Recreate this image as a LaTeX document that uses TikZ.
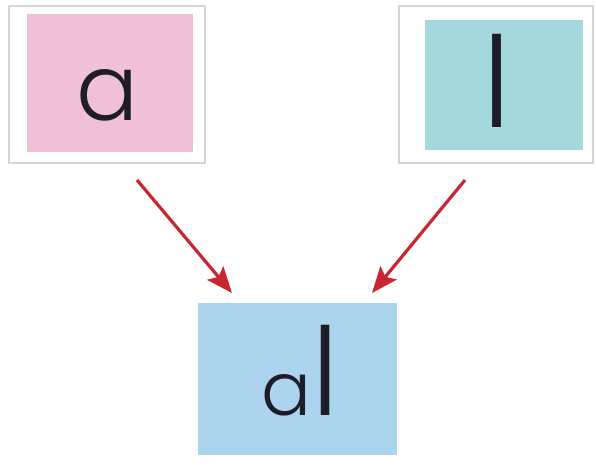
\documentclass[tikz,border=0pt]{standalone}
\usepackage{fontspec}
\setmainfont{Poppins Light}
\usetikzlibrary{arrows.meta}
\definecolor{pinkfill}{RGB}{240,192,216}
\definecolor{tealfill}{RGB}{165,216,218}
\definecolor{bluefill}{RGB}{172,212,238}
\definecolor{framegray}{RGB}{214,214,214}
\definecolor{arrowred}{RGB}{200,38,48}
\definecolor{inkcol}{RGB}{30,28,40}
\tikzset{
  frame/.style={draw=framegray, line width=2pt, fill=white},
  letter/.style={text=inkcol, inner sep=0pt, anchor=base},
  link/.style={draw=arrowred, line width=3.2pt, -{Stealth[length=26pt,width=21pt,inset=5pt]}}
}
\begin{document}
\begin{tikzpicture}[x=1pt,y=-1pt]
\useasboundingbox (0,0) rectangle (596,475);
% pink card
\draw[frame] (9,6) rectangle (205,163);
\fill[pinkfill] (27,14) rectangle (193,152);
\node[letter] (la) at (108,120) {\fontsize{92}{92}\selectfont a};
% teal card
\draw[frame] (399,6) rectangle (593,163);
\fill[tealfill] (425,20) rectangle (583,150);
\node[letter] (ll) at (497,127) {\fontsize{126}{126}\selectfont l};
% blue card
\fill[bluefill] (198,303) rectangle (397,455);
\node[letter] (lal) at (300,415) {\fontsize{74}{74}\selectfont a\fontsize{122}{122}\selectfont l};
% arrows
\coordinate (s1) at (137,180);
\coordinate (e1) at (232,293);
\coordinate (s2) at (465,180);
\coordinate (e2) at (372,293);
\draw[link] (s1) -- (e1);
\draw[link] (s2) -- (e2);
\end{tikzpicture}
\end{document}
